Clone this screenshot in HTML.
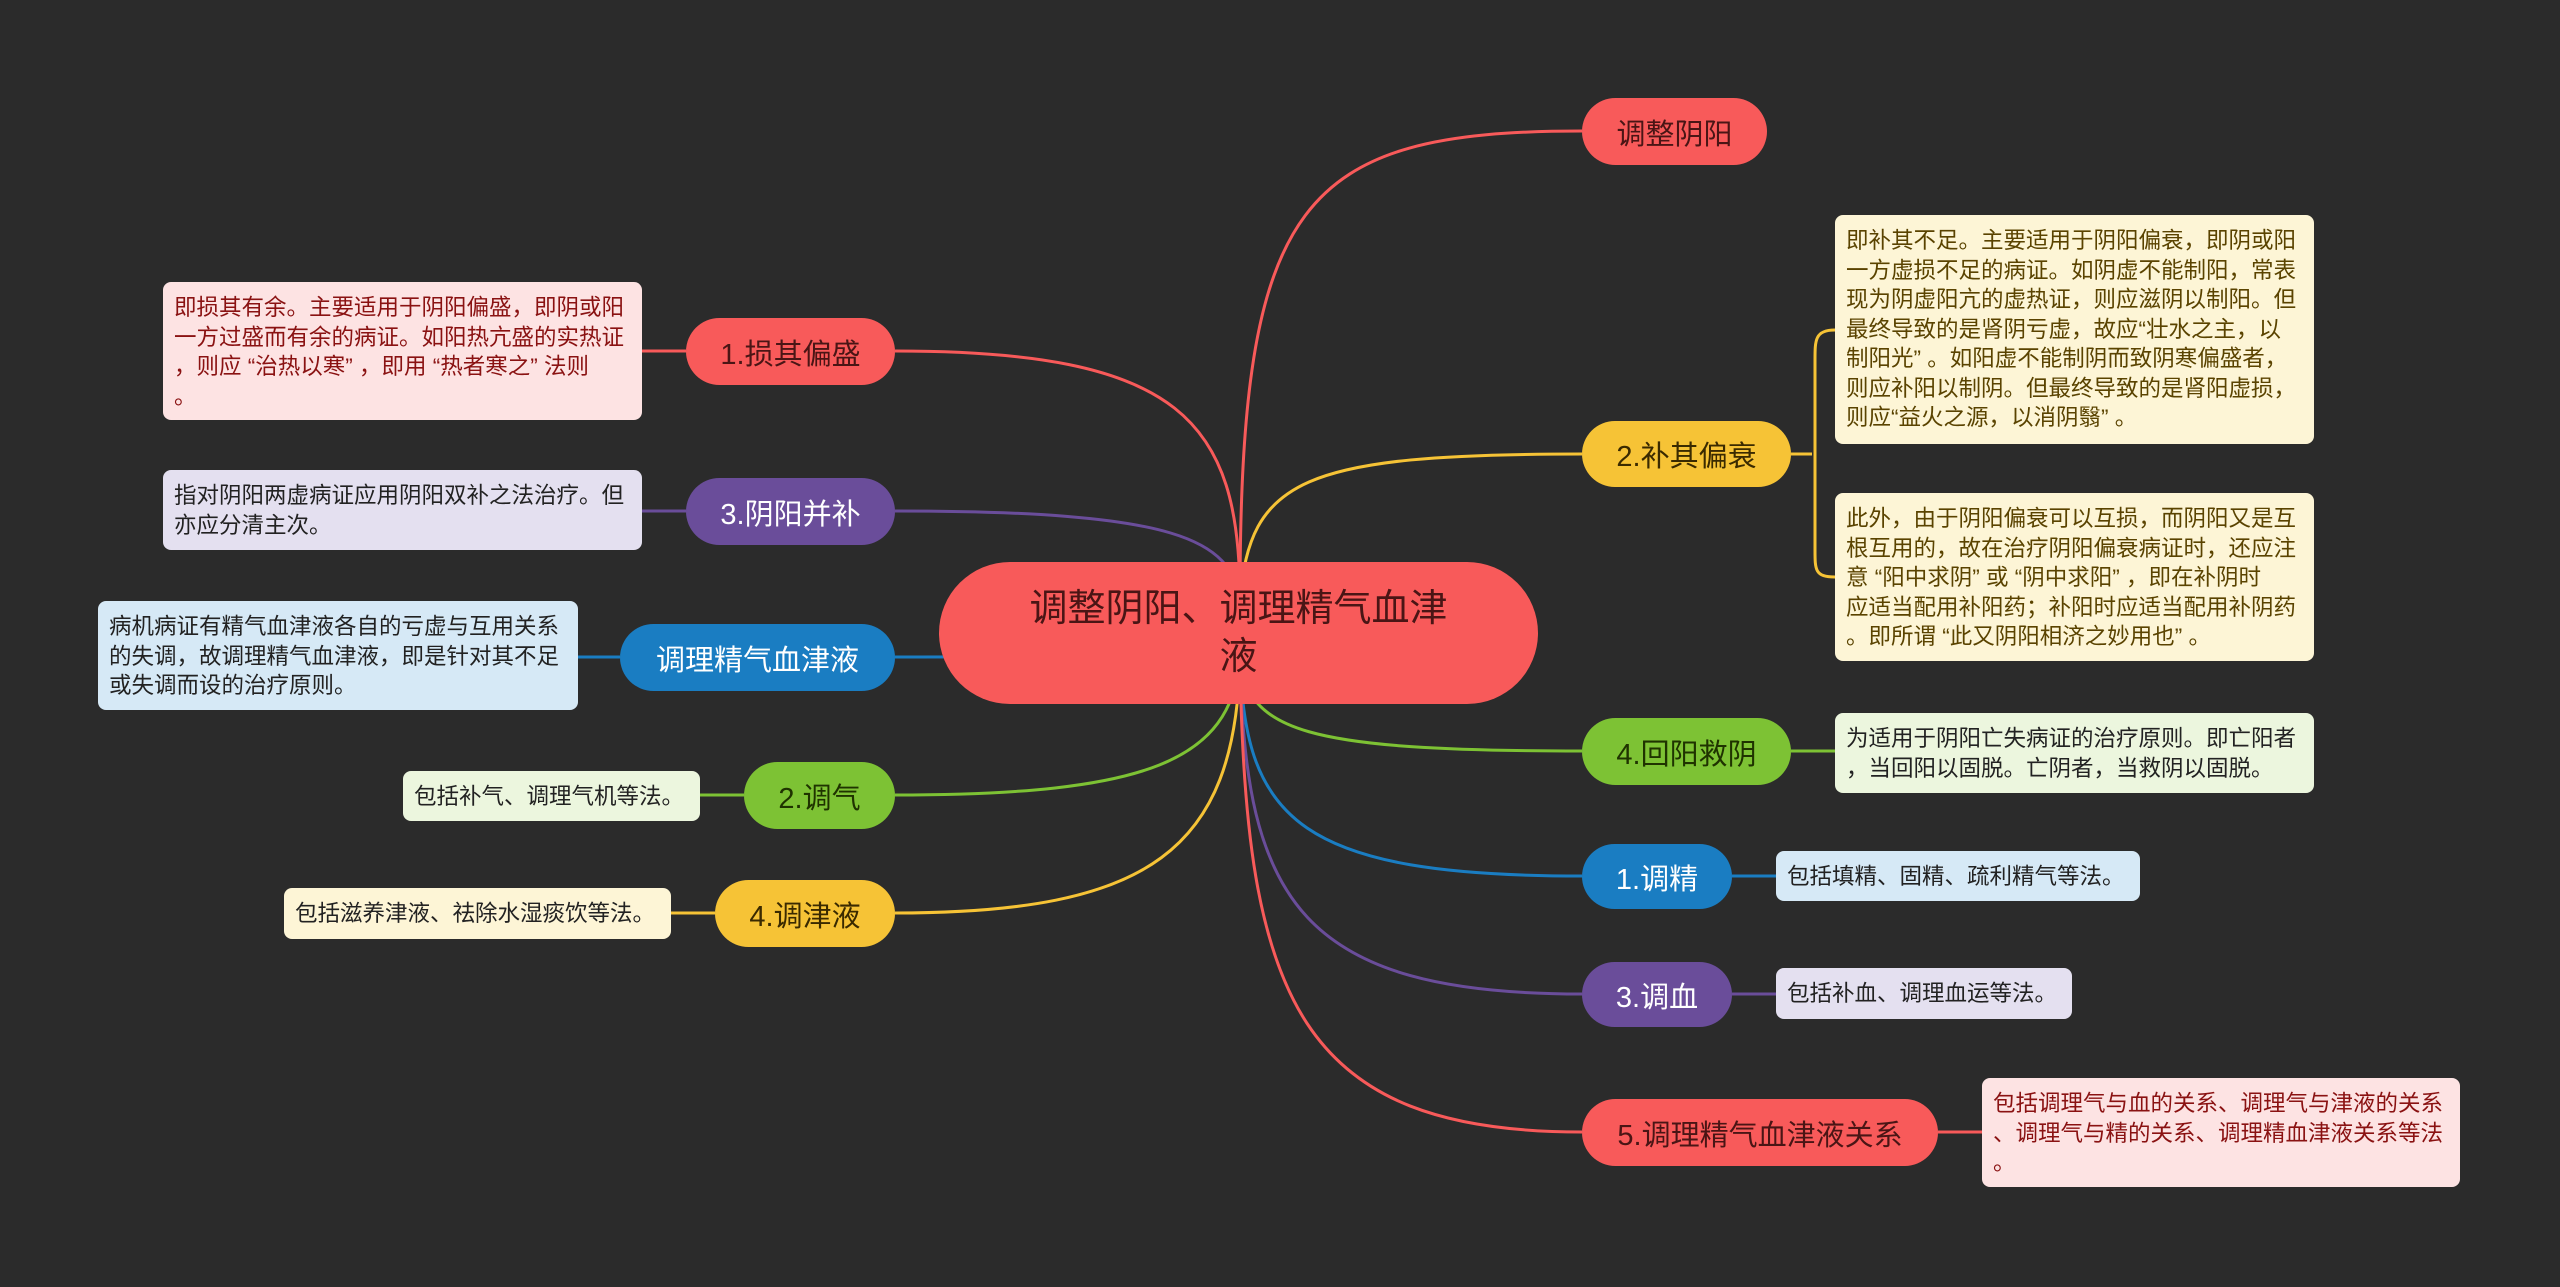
<!DOCTYPE html>
<html><head><meta charset="utf-8">
<style>
body{margin:0;background:#2b2b2b;width:2560px;height:1287px;overflow:hidden;position:relative;font-family:"Liberation Sans","Noto Sans CJK SC",sans-serif;}
.n{position:absolute;border-radius:34px;display:flex;align-items:center;justify-content:center;font-size:29px;white-space:nowrap;box-sizing:border-box;}
.b{position:absolute;border-radius:8px;font-size:22.5px;line-height:29.5px;padding:11px 8px 0 11px;box-sizing:border-box;white-space:nowrap;color:#222;overflow:hidden;}
.r{background:#f85a5a;color:#4a1515}.y{background:#f6c336;color:#3a2a00}.g{background:#7dc234;color:#1f3300}.bl{background:#1a7dc2;color:#fff}.p{background:#6a4d9a;color:#fff}
.br{background:#fde3e3;color:#8a1212}.by{background:#fdf5d6;color:#5a4300}.bg{background:#ecf6de}.bb{background:#d6e9f6}.bp{background:#e4e0f0}
</style></head><body>
<svg width="2560" height="1287" style="position:absolute;left:0;top:0" fill="none" stroke-width="3">
<path d="M1240 600 C1240 200 1300 131 1582 131" stroke="#f85a5a"/>
<path d="M1240 600 C1250 480 1300 454 1582 454" stroke="#f6c336"/>
<path d="M1240 660 C1250 730 1300 751 1582 751" stroke="#7dc234"/>
<path d="M1240 660 C1245 820 1300 876 1582 876" stroke="#1a7dc2"/>
<path d="M1240 660 C1245 900 1300 994 1582 994" stroke="#6a4d9a"/>
<path d="M1240 660 C1245 1000 1300 1132 1582 1132" stroke="#f85a5a"/>
<path d="M1240 600 C1240 420 1180 351 895 351" stroke="#f85a5a"/>
<path d="M1240 600 C1230 540 1180 511 895 511" stroke="#6a4d9a"/>
<path d="M1240 640 C1200 657 1100 657 895 657" stroke="#1a7dc2"/>
<path d="M1240 660 C1230 760 1150 795 895 795" stroke="#7dc234"/>
<path d="M1240 660 C1235 850 1150 913 895 913" stroke="#f6c336"/>
<path d="M1791 454 H1812 M1835 330 C1815 330 1815 340 1815 360 V550 C1815 570 1815 577 1835 577" stroke="#f6c336"/>
<path d="M1791 751 H1835" stroke="#7dc234"/>
<path d="M1732 876 H1776" stroke="#1a7dc2"/><path d="M1732 994 H1776" stroke="#6a4d9a"/><path d="M1938 1132 H1982" stroke="#f85a5a"/>
<path d="M642 351 H686" stroke="#f85a5a"/><path d="M642 511 H686" stroke="#6a4d9a"/><path d="M578 657 H620" stroke="#1a7dc2"/><path d="M700 795 H744" stroke="#7dc234"/><path d="M671 913 H715" stroke="#f6c336"/>
</svg>
<div class="n r" style="left:939px;top:562px;width:599px;height:142px;border-radius:71px;font-size:38px;line-height:48px;text-align:center;">调整阴阳、调理精气血津<br>液</div>
<div class="n r" style="left:1582px;top:98px;width:185px;height:67px">调整阴阳</div>
<div class="n y" style="left:1582px;top:421px;width:209px;height:66px">2.补其偏衰</div>
<div class="n g" style="left:1582px;top:718px;width:209px;height:67px">4.回阳救阴</div>
<div class="n bl" style="left:1582px;top:844px;width:150px;height:65px">1.调精</div>
<div class="n p" style="left:1582px;top:962px;width:150px;height:65px">3.调血</div>
<div class="n r" style="left:1582px;top:1099px;width:356px;height:67px">5.调理精气血津液关系</div>
<div class="n r" style="left:686px;top:318px;width:209px;height:67px">1.损其偏盛</div>
<div class="n p" style="left:686px;top:478px;width:209px;height:67px">3.阴阳并补</div>
<div class="n bl" style="left:620px;top:624px;width:275px;height:67px">调理精气血津液</div>
<div class="n g" style="left:744px;top:762px;width:151px;height:67px">2.调气</div>
<div class="n y" style="left:715px;top:880px;width:180px;height:67px">4.调津液</div>

<div class="b by" style="left:1835px;top:215px;width:479px;height:229px">即补其不足。主要适用于阴阳偏衰，即阴或阳<br>一方虚损不足的病证。如阴虚不能制阳，常表<br>现为阴虚阳亢的虚热证，则应滋阴以制阳。但<br>最终导致的是肾阴亏虚，故应“壮水之主，以<br>制阳光” 。如阳虚不能制阴而致阴寒偏盛者，<br>则应补阳以制阴。但最终导致的是肾阳虚损，<br>则应“益火之源，以消阴翳” 。</div>
<div class="b by" style="left:1835px;top:493px;width:479px;height:168px">此外，由于阴阳偏衰可以互损，而阴阳又是互<br>根互用的，故在治疗阴阳偏衰病证时，还应注<br>意 “阳中求阴” 或 “阴中求阳” ，即在补阴时<br>应适当配用补阳药；补阳时应适当配用补阴药<br>。即所谓 “此又阴阳相济之妙用也” 。</div>
<div class="b bg" style="left:1835px;top:713px;width:479px;height:80px">为适用于阴阳亡失病证的治疗原则。即亡阳者<br>，当回阳以固脱。亡阴者，当救阴以固脱。</div>
<div class="b bb" style="left:1776px;top:851px;width:364px;height:50px">包括填精、固精、疏利精气等法。</div>
<div class="b bp" style="left:1776px;top:968px;width:296px;height:51px">包括补血、调理血运等法。</div>
<div class="b br" style="left:1982px;top:1078px;width:478px;height:109px">包括调理气与血的关系、调理气与津液的关系<br>、调理气与精的关系、调理精血津液关系等法<br>。</div>
<div class="b br" style="left:163px;top:282px;width:479px;height:138px">即损其有余。主要适用于阴阳偏盛，即阴或阳<br>一方过盛而有余的病证。如阳热亢盛的实热证<br>，则应 “治热以寒” ，即用 “热者寒之” 法则<br>。</div>
<div class="b bp" style="left:163px;top:470px;width:479px;height:80px">指对阴阳两虚病证应用阴阳双补之法治疗。但<br>亦应分清主次。</div>
<div class="b bb" style="left:98px;top:601px;width:480px;height:109px">病机病证有精气血津液各自的亏虚与互用关系<br>的失调，故调理精气血津液，即是针对其不足<br>或失调而设的治疗原则。</div>
<div class="b bg" style="left:403px;top:771px;width:297px;height:50px">包括补气、调理气机等法。</div>
<div class="b by" style="left:284px;top:888px;width:387px;height:51px;color:#222">包括滋养津液、祛除水湿痰饮等法。</div>
</body></html>
